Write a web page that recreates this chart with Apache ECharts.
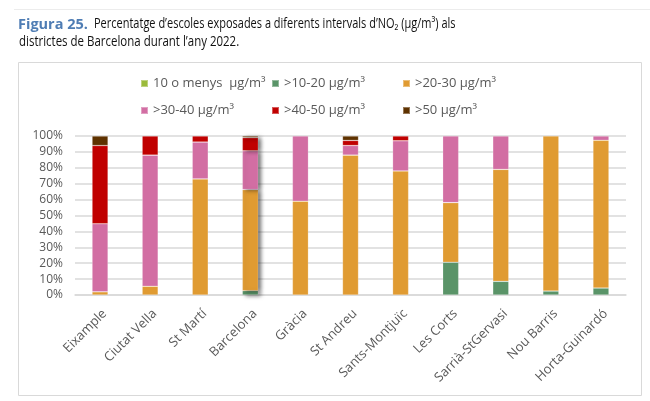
<!DOCTYPE html>
<html>
<head>
<meta charset="utf-8">
<script src="https://cdn.jsdelivr.net/npm/echarts@6/dist/echarts.min.js"></script>
<style>
  html, body { margin: 0; padding: 0; background: #fff; }
  #chart { width: 650px; height: 401px; }
</style>
</head>
<body>
<div id="chart"></div>
<script>
const districts = ['Eixample', 'Ciutat Vella', 'St Martí', 'Barcelona', 'Gràcia', 'St Andreu',
  'Sants-Montjuïc', 'Les Corts', 'Sarrià-StGervasi', 'Nou Barris', 'Horta-Guinardó'];

// % of schools per NO2 interval
const upTo10 = [0, 0, 0, 0, 0, 0, 0, 0, 0, 0, 0];
const from10to20 = [0, 0, 0, 2.7, 0, 0, 0, 20.6, 8.6, 2.5, 4.4];
const from20to30 = [2, 5.5, 73, 63.6, 59, 88, 78, 37.5, 70.4, 97.5, 92.9];
const from30to40 = [42.8, 82.5, 23.2, 24.4, 41, 6, 19, 41.9, 21, 0, 2.7];
const from40to50 = [49.2, 12, 3.8, 8.3, 0, 3.2, 3, 0, 0, 0, 0];
const over50 = [6, 0, 0, 1, 0, 2.8, 0, 0, 0, 0, 0];

const seriesNames = ['10 o menys  μg/m³', '>10-20 μg/m³', '>20-30 μg/m³', '>30-40 μg/m³', '>40-50 μg/m³', '>50 μg/m³'];
const seriesValues = [upTo10, from10to20, from20to30, from30to40, from40to50, over50];
const colors = ['#9bbb3b', '#5a9468', '#e09b32', '#d26ea3', '#c00000', '#5e3200'];

const yTicks = [0, 10, 20, 30, 40, 50, 60, 70, 80, 90, 100];

const chart = echarts.init(document.getElementById('chart'));

// the Barcelona column carries a drop shadow
const highlightIdx = districts.indexOf('Barcelona');

const series = seriesValues.map((vals, i) => ({
  name: seriesNames[i],
  type: 'bar',
  stack: 'total',
  barWidth: 16,
  itemStyle: { color: colors[i], borderColor: 'rgba(255,255,255,0.35)', borderWidth: 0.6 },
  data: vals.map((v, j) => {
    const value = v === 0 ? '-' : v;
    if (j !== highlightIdx) return value;
    return {
      value,
      itemStyle: { shadowColor: 'rgba(0,0,0,0.55)', shadowBlur: 4, shadowOffsetX: 3, shadowOffsetY: 1 },
    };
  }),
}));

const legendCols = [140, 271, 402];
const legendRows = [77, 104];
const legends = seriesNames.map((name, i) => ({
  data: [name],
  left: legendCols[i % 3],
  top: legendRows[Math.floor(i / 3)],
  icon: 'rect',
  itemWidth: 7,
  itemHeight: 7,
  itemGap: 5,
  padding: 0,
  selectedMode: false,
  textStyle: { color: '#595959', fontSize: 13, fontFamily: 'Open Sans' },
}));

// title text is narrower than Open Sans, so squeeze it a bit
const titleText = { fontSize: 14, fontFamily: 'Open Sans', fill: '#111' };

chart.setOption({
  animation: false,
  color: colors,
  legend: legends,
  grid: { left: 75, right: 24, top: 136, bottom: 106 },
  xAxis: {
    type: 'category',
    data: districts,
    axisLine: { lineStyle: { color: '#d9d9d9', width: 1.5 } },
    axisTick: { show: false },
    axisLabel: {
      rotate: 45, margin: 12, verticalAlign: 'top', interval: 0,
      color: '#595959', fontSize: 13, fontFamily: 'Open Sans',
    },
  },
  yAxis: {
    type: 'value',
    min: yTicks[0],
    max: yTicks[yTicks.length - 1],
    interval: 10,
    axisLine: { show: false },
    axisTick: { show: false },
    splitLine: { lineStyle: { color: '#d9d9d9', width: 1.5 } },
    axisLabel: { color: '#595959', fontSize: 12, fontFamily: 'Open Sans', margin: 12, formatter: '{value}%' },
  },
  graphic: [
    {
      type: 'line',
      shape: { x1: 14, y1: 9.5, x2: 650, y2: 9.5 },
      style: { stroke: '#ececec', lineWidth: 1 },
    },
    {
      type: 'rect',
      shape: { x: 18.5, y: 62.5, width: 623, height: 333 },
      style: { fill: 'none', stroke: '#d9d9d9', lineWidth: 1 },
    },
    {
      type: 'text',
      left: 18,
      top: 17,
      style: { text: 'Figura 25.', fontSize: 14.5, fontWeight: 'bold', fontFamily: 'Open Sans', fill: '#4f7db4' },
    },
    {
      type: 'text',
      left: 94,
      top: 17,
      scaleX: 0.785,
      style: Object.assign({ text: 'Percentatge d’escoles exposades a diferents intervals d’NO₂ (μg/m³) als' }, titleText),
    },
    {
      type: 'text',
      left: 19,
      top: 35,
      scaleX: 0.82,
      style: Object.assign({ text: 'districtes de Barcelona durant l’any 2022.' }, titleText),
    },
  ],
  series,
});
</script>
</body>
</html>
